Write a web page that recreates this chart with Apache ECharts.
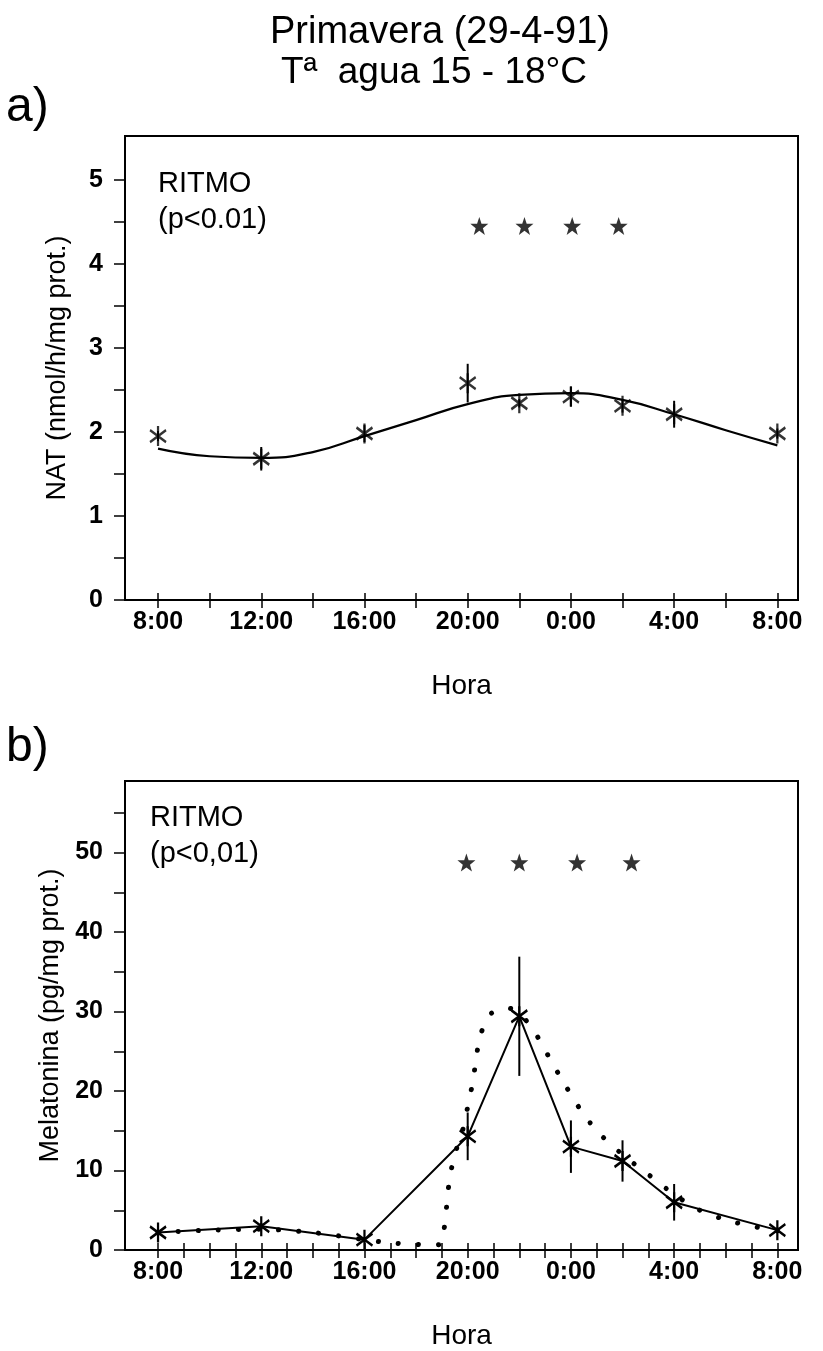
<!DOCTYPE html>
<html><head><meta charset="utf-8">
<script src="https://cdn.jsdelivr.net/npm/echarts@6/dist/echarts.min.js"></script>
<style>html,body{margin:0;padding:0;background:#fff}#c{width:823px;height:1351px}</style>
</head><body><div id="c"></div>
<script>
// ---- axis ticks / labels ----
const tickHoursA = [0,2,4,6,8,10,12,14,16,18,20,22,24];
const tickHoursB = [0,1,2,3,4,5,6,7,8,9,10,11,12,13,14,15,16,17,18,19,20,21,22,23,24];
const labelHours = [0,4,8,12,16,20,24];
const tickLabels = ['8:00','12:00','16:00','20:00','0:00','4:00','8:00'];
const yTicksA = [0,0.5,1,1.5,2,2.5,3,3.5,4,4.5,5];
const yLabelsA = [0,1,2,3,4,5];
const yTicksB = [0,5,10,15,20,25,30,35,40,45,50,55];
const yLabelsB = [0,10,20,30,40,50];

// ---- panel a : NAT ----
const hoursA = [0,4,8,12,14,16,18,20,24];
const natMean = [1.95,1.68,1.98,2.58,2.34,2.42,2.31,2.21,1.98];
const natSE   = [0.06,0.14,0.10,0.23,0.05,0.12,0.08,0.16,0.06];
const natFitHours = [0,2,4,6,8,10,12,14,16,18,20,22,24];
const natFit      = [1.80,1.71,1.69,1.76,1.95,2.14,2.33,2.44,2.46,2.38,2.21,2.02,1.84];
const sigHoursA = [12.45,14.2,16.05,17.85];
const sigLevelA = 4.45;

// ---- panel b : Melatonina ----
const hoursB = [0,4,8,12,14,16,18,20,24];
const melMean = [2.2,3.0,1.3,14.3,29.4,13.0,11.2,6.0,2.5];
const melSE   = [0.3,0.4,0.3,3.0,7.5,3.3,2.6,2.3,0.3];
const melFitHours = [0,2,4,6,8,9,10,10.5,11.0,11.1,11.2,11.3,11.5,11.8,12.0,12.2,12.33,12.48,12.84,13.2,13.62,14.1,14.45,14.79,15.21,15.66,16.3,17,18,19,20,21,22,23,24];
const melFit      = [2.2,2.5,2.6,2.2,1.3,0.9,0.7,0.6,0.8,3,6,9,12,15,18,21.2,24.1,26.9,29.5,30.3,30.4,29.5,28,26.4,23.9,21.4,18,15,12,9.5,7,5,3.8,3,2.4];
const sigHoursB = [11.95,14.0,16.24,18.35];
const sigLevelB = 48.75;

const FONT = '"Liberation Sans", Arial, sans-serif';
const XMIN = -1.28, XMAX = 24.8;
const ASTER = 'path://M0,-10L0,10M-8,-6L8,6M-8,6L8,-6';
const STAR = 'path://M0,-10L2.35,-3.24L9.51,-3.09L3.8,1.24L5.88,8.09L0,4L-5.88,8.09L-3.8,1.24L-9.51,-3.09L-2.35,-3.24Z';

function xAxes(gi, ticks){
  return [{
    type:'value', gridIndex:gi, min:XMIN, max:XMAX,
    axisLine:{onZero:false, lineStyle:{color:'#000', width:2}},
    axisTick:{customValues:ticks, length:8, lineStyle:{color:'#000', width:1.5}},
    axisLabel:{customValues:labelHours, formatter:v=>tickLabels[labelHours.indexOf(v)], color:'#000', fontFamily:FONT, fontSize:25, fontWeight:'bold', margin:10},
    splitLine:{show:false},
    name:'Hora', nameLocation:'middle', nameGap:72, nameTextStyle:{color:'#000', fontFamily:FONT, fontSize:28}
  },{
    type:'value', gridIndex:gi, position:'bottom', min:XMIN, max:XMAX,
    axisLine:{show:false},
    axisTick:{customValues:ticks, inside:true, length:7, lineStyle:{color:'#000', width:1.5}},
    axisLabel:{show:false}, splitLine:{show:false}
  }];
}
function yAxis(gi, max, ticks, labels, name){
  return {
    type:'value', gridIndex:gi, min:0, max:max,
    axisLine:{onZero:false, lineStyle:{color:'#000', width:2}},
    axisTick:{customValues:ticks, length:11, lineStyle:{color:'#000', width:1.5}},
    axisLabel:{customValues:labels, color:'#000', fontFamily:FONT, fontSize:25, fontWeight:'bold', margin:22},
    splitLine:{show:false},
    name:name, nameLocation:'middle', nameGap:54, nameRotate:90,
    nameTextStyle:{color:'#000', fontFamily:FONT, fontSize:27}
  };
}
function errSeries(xi, yi, hours, mean, se){
  return {
    type:'custom', xAxisIndex:xi, yAxisIndex:yi, z:3,
    data: hours.map((h,i)=>[h, mean[i]-se[i], mean[i]+se[i]]),
    renderItem:(params, api)=>{
      const p1 = api.coord([api.value(0), api.value(1)]);
      const p2 = api.coord([api.value(0), api.value(2)]);
      return {type:'line', shape:{x1:p1[0], y1:p1[1], x2:p2[0], y2:p2[1]}, style:{stroke:'#000', lineWidth:2}};
    }
  };
}
const markerStyle = {color:'#000', borderColor:'#000', borderWidth:2.5};

const option = {
  animation:false,
  backgroundColor:'#fff',
  grid:[
    {left:125, top:136, right:25, height:464, show:true, borderColor:'#000', borderWidth:2, backgroundColor:'transparent'},
    {left:125, top:781, right:25, height:471, show:true, borderColor:'#000', borderWidth:2, backgroundColor:'transparent'}
  ],
  xAxis:[...xAxes(0, tickHoursA), ...xAxes(1, tickHoursB)],
  yAxis:[
    yAxis(0, 5.52, yTicksA, yLabelsA, 'NAT (nmol/h/mg prot.)'),
    yAxis(1, 59, yTicksB, yLabelsB, 'Melatonina (pg/mg prot.)')
  ],
  series:[
    {type:'line', xAxisIndex:0, yAxisIndex:0, smooth:true, symbol:'none',
     lineStyle:{color:'#000', width:2.2}, data:natFitHours.map((h,i)=>[h,natFit[i]])},
    errSeries(0,0,hoursA,natMean,natSE),
    {type:'scatter', xAxisIndex:0, yAxisIndex:0, symbol:ASTER, symbolSize:[16,20], itemStyle:markerStyle, z:4,
     data:hoursA.map((h,i)=>[h,natMean[i]])},
    {type:'scatter', xAxisIndex:0, yAxisIndex:0, symbol:STAR, symbolSize:18, itemStyle:{color:'#000'},
     data:sigHoursA.map(h=>[h,sigLevelA])},

    {type:'line', xAxisIndex:2, yAxisIndex:1, smooth:0.3, symbol:'none',
     lineStyle:{color:'#000', width:5, type:[0.1,20], cap:'round'}, data:melFitHours.map((h,i)=>[h,melFit[i]])},
    errSeries(2,1,hoursB,melMean,melSE),
    {type:'line', xAxisIndex:2, yAxisIndex:1, symbol:ASTER, symbolSize:[16,20], itemStyle:markerStyle, z:4,
     lineStyle:{color:'#000', width:2}, data:hoursB.map((h,i)=>[h,melMean[i]])},
    {type:'scatter', xAxisIndex:2, yAxisIndex:1, symbol:STAR, symbolSize:18, itemStyle:{color:'#000'},
     data:sigHoursB.map(h=>[h,sigLevelB])}
  ],
  graphic:[
    {type:'text', x:440, y:14, style:{text:'Primavera (29-4-91)', font:'38px '+FONT, fill:'#000', align:'center', verticalAlign:'top'}},
    {type:'text', x:434, y:54, style:{text:'Tª  agua 15 - 18°C', font:'37px '+FONT, fill:'#000', align:'center', verticalAlign:'top'}},
    {type:'text', x:6, y:84, style:{text:'a)', font:'48px '+FONT, fill:'#000', verticalAlign:'top'}},
    {type:'text', x:6, y:724, style:{text:'b)', font:'48px '+FONT, fill:'#000', verticalAlign:'top'}},
    {type:'text', x:158, y:166, style:{text:'RITMO\n(p<0.01)', font:'29px '+FONT, lineHeight:36, fill:'#000', verticalAlign:'top'}},
    {type:'text', x:150, y:800, style:{text:'RITMO\n(p<0,01)', font:'29px '+FONT, lineHeight:36, fill:'#000', verticalAlign:'top'}}
  ]
};
echarts.init(document.getElementById('c')).setOption(option);
</script></body></html>
